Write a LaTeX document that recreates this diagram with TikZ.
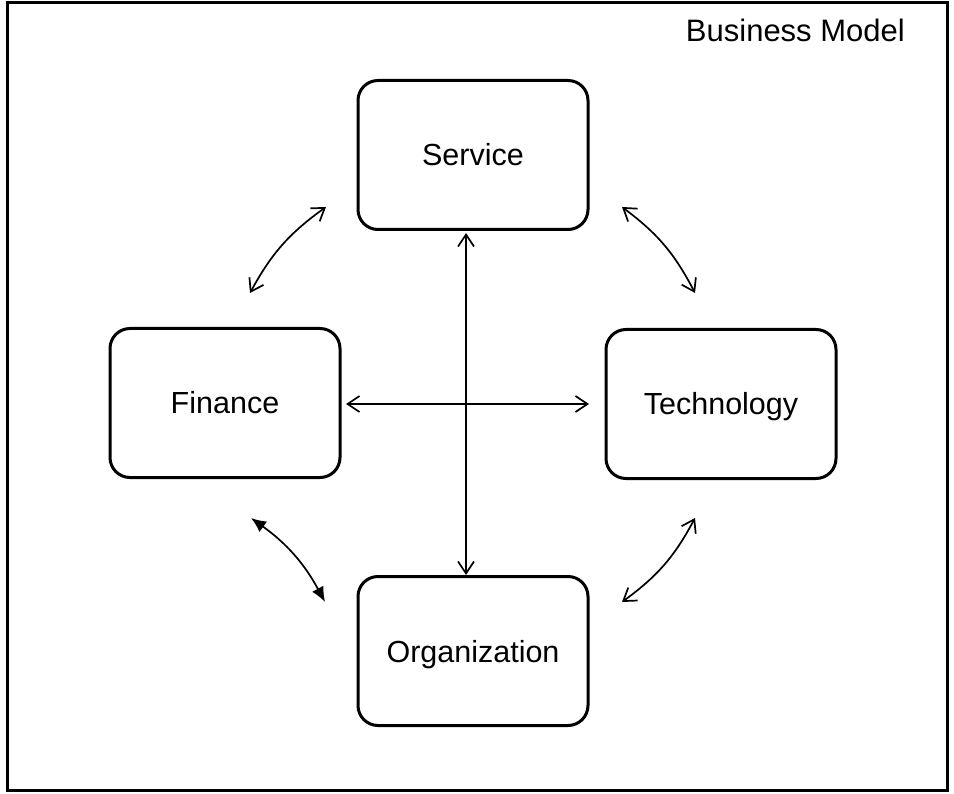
\documentclass[tikz,border=0pt]{standalone}
\usepackage{fontspec}
\setmainfont{Liberation Sans}
\usetikzlibrary{arrows.meta,positioning}
\begin{document}
\begin{tikzpicture}[x=1pt,y=-1pt,
  block/.style={draw,line width=3pt,rounded corners=20pt,minimum width=230pt,minimum height=149pt,inner sep=0pt,text height=22pt,text depth=0pt,font=\fontsize{30.5}{36}\selectfont},
  link/.style={line width=1.7pt,{Straight Barb[length=12pt,width=16pt]}-{Straight Barb[length=12pt,width=16pt]}},
  solidlink/.style={line width=1.7pt,{Latex[length=15pt,width=13pt]}-{Latex[length=15pt,width=13pt]}}]
  \useasboundingbox (0,0) rectangle (954,794);
  \node[draw,line width=3pt,minimum width=940pt,minimum height=787pt,inner sep=0pt] (frame) at (477,396.5) {};
  \node[anchor=north east,font=\fontsize{31}{36}\selectfont,inner sep=0pt] (title) at (905,19) {Business Model};

  \node[block] (service) at (473,155) {Service};
  \node[block] (finance) at (225,403) {Finance};
  \node[block] (tech) at (721,404) {Technology};
  \node[block] (org) at (473,651) {Organization};

  % direct links through the centre
  \coordinate (vtop) at (466,233); \coordinate (vbot) at (466,575);
  \coordinate (hl) at (346,404); \coordinate (hr) at (589,404);
  \draw[link] (vtop) -- (vbot);
  \draw[link] (hl) -- (hr);

  % curved links between neighbouring blocks
  \coordinate (a1) at (250,293); \coordinate (a2) at (326,207);
  \coordinate (b1) at (622,207); \coordinate (b2) at (695,293);
  \coordinate (c1) at (251,518); \coordinate (c2) at (325,602);
  \coordinate (d1) at (695,518); \coordinate (d2) at (622,602);
  \draw[link] (a1) to[bend left=13] (a2);
  \draw[link] (b1) to[bend left=13] (b2);
  \draw[solidlink] (c1) to[bend left=13] (c2);
  \draw[link] (d1) to[bend left=13] (d2);
\end{tikzpicture}
\end{document}
